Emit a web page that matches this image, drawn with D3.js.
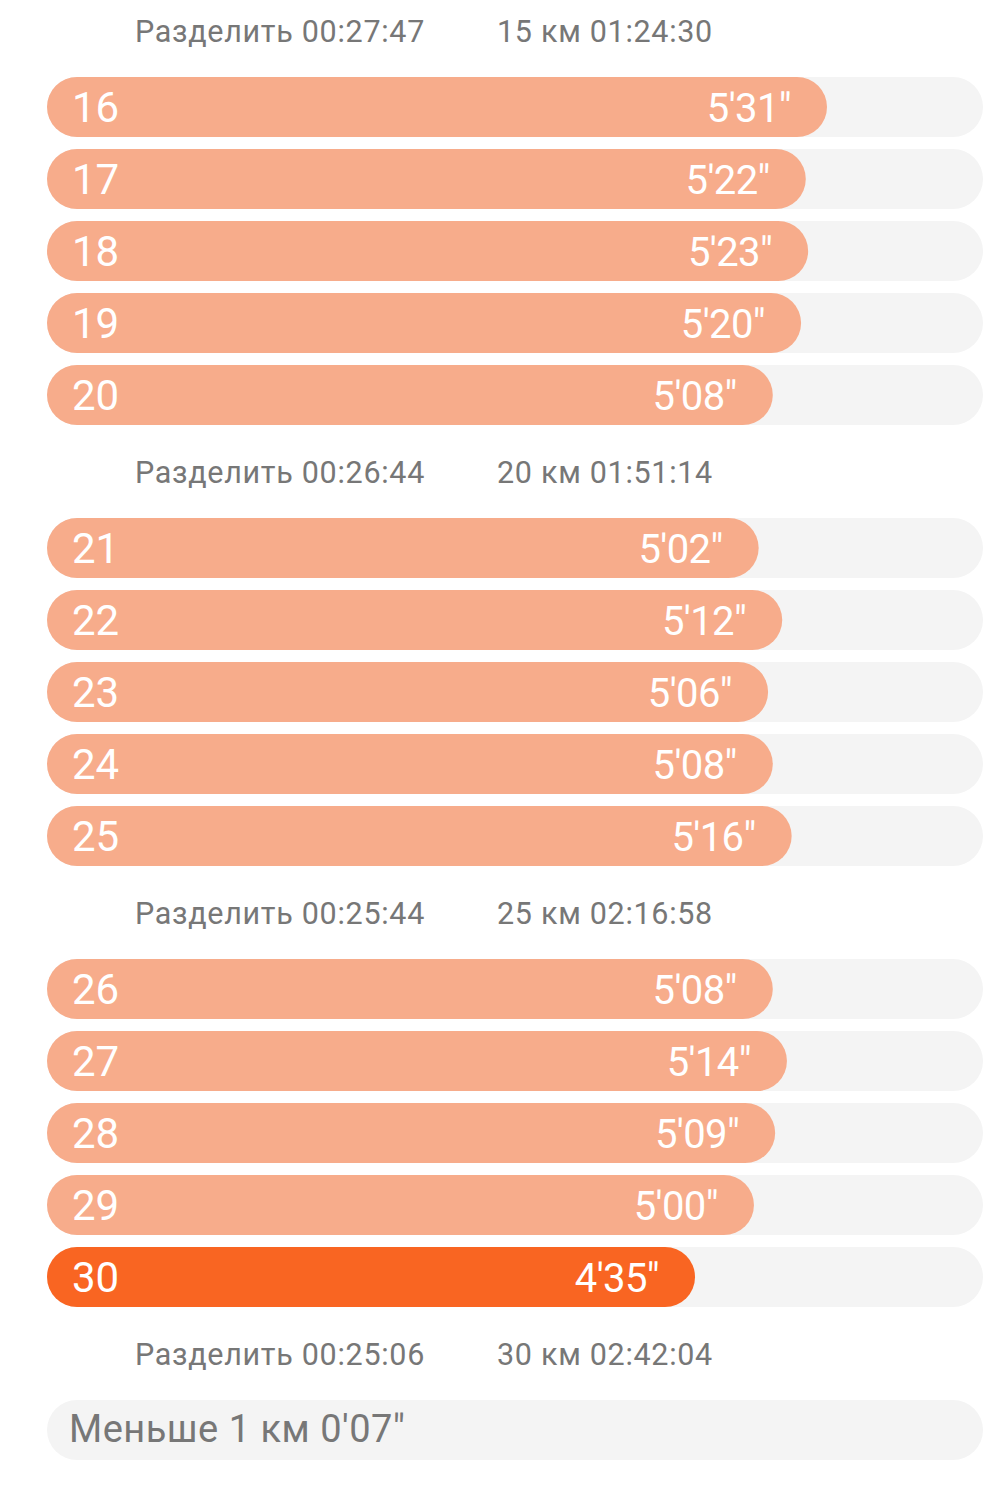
<!DOCTYPE html>
<html><head><meta charset="utf-8">
<script src="https://cdn.jsdelivr.net/npm/d3@7/dist/d3.min.js"></script>
<style>
html,body{margin:0;padding:0;background:#fff;}
svg{display:block;font-family:Roboto,"Noto Sans",sans-serif;}
</style></head>
<body><svg id="chart" width="991" height="1486"></svg>
<script>
const kms = [16,17,18,19,20,21,22,23,24,25,26,27,28,29,30];
const paceSec = [331,322,323,320,308,302,312,306,308,316,308,314,309,300,275];
const splitLabels = ["Разделить 00:27:47","Разделить 00:26:44","Разделить 00:25:44","Разделить 00:25:06"];
const cumLabels = ["15 км 01:24:30","20 км 01:51:14","25 км 02:16:58","30 км 02:42:04"];
const remainderLabel = "Меньше 1 км 0'07\"";

const left = 47, right = 983, barH = 60, rowStep = 72, groupStep = 441, perGroup = 5;
const colBar = "#F7AC8B", colFast = "#F96522", colTrack = "#F4F4F4", colText = "#777777";

const svg = d3.select("#chart");
const x = d3.scaleLinear().domain([0, d3.max(paceSec) * 1.2]).range([left, right]);
const fastest = d3.min(paceSec);
const fmt = s => `${Math.floor(s/60)}'${String(s%60).padStart(2,"0")}"`;

const data = kms.map((k,i)=>({km:k, pace:paceSec[i], group:Math.floor(i/perGroup), idx:i%perGroup}));
const rowY = d => 77 + d.group*groupStep + d.idx*rowStep;

// split header texts
splitLabels.forEach((t,g)=>{
  const by = 42 + g*groupStep;
  svg.append("text").attr("x",135).attr("y",by).attr("font-size",30.5).attr("letter-spacing",0.7)
    .attr("fill",colText).text(t);
  svg.append("text").attr("x",497).attr("y",by).attr("font-size",30.5).attr("letter-spacing",0.7)
    .attr("fill",colText).text(cumLabels[g]);
});

const rows = svg.selectAll("g.row").data(data).join("g").attr("class","row")
  .attr("transform", d=>`translate(0,${rowY(d)})`);
rows.append("rect").attr("x",left).attr("y",0).attr("width",right-left).attr("height",barH)
  .attr("rx",barH/2).attr("fill",colTrack);
rows.append("rect").attr("x",left).attr("y",0).attr("width",d=>x(d.pace)-left).attr("height",barH)
  .attr("rx",barH/2).attr("fill",d=>d.pace===fastest?colFast:colBar);
rows.append("text").attr("x",72).attr("y",45).attr("font-size",42).attr("fill","#fff").text(d=>d.km);
rows.append("text").attr("x",d=>x(d.pace)-36).attr("y",45).attr("text-anchor","end")
  .attr("font-size",40).attr("letter-spacing",-0.6).attr("fill","#fff").text(d=>fmt(d.pace));

// remainder row
svg.append("rect").attr("x",left).attr("y",1400).attr("width",right-left).attr("height",barH)
  .attr("rx",barH/2).attr("fill",colTrack);
svg.append("text").attr("x",69).attr("y",1442).attr("font-size",38).attr("letter-spacing",0.5)
  .attr("fill",colText).text(remainderLabel);
</script></body></html>
